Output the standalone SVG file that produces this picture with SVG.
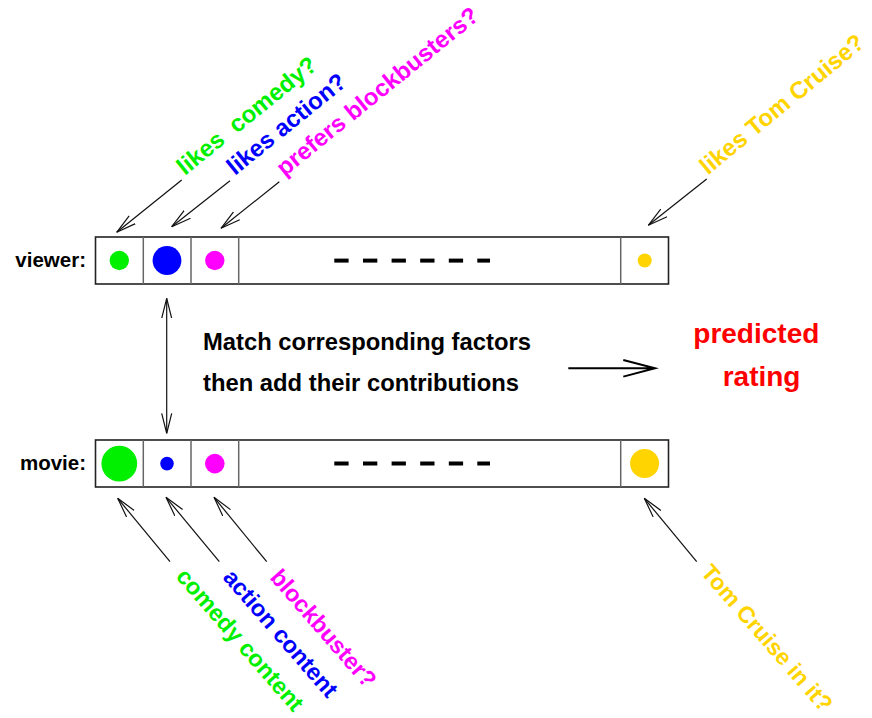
<svg xmlns="http://www.w3.org/2000/svg" width="872" height="718" viewBox="0 0 872 718">
  <defs>
    <style>
      text { font-family: "Liberation Sans", Arial, Helvetica, sans-serif; font-weight: bold; }
      .lbl { font-size: 24px; white-space: pre; }
      .lbl2 { font-size: 23.5px; white-space: pre; }
      .lbl3 { font-size: 23px; white-space: pre; }
      .row { font-size: 20.5px; fill: #000; }
      .mid { font-size: 23.8px; fill: #000; }
      .res { font-size: 28px; fill: #ff0000; }
      .box { fill: #fff; stroke: #222; stroke-width: 1.6; }
      .div { stroke: #666; stroke-width: 1.5; }
      .dash { fill: #000; }
      .conn { stroke: #111; stroke-width: 1.2; fill: none; }
      .g { fill: #00f000; } .b { fill: #0000ff; } .m { fill: #ff00ff; } .y { fill: #ffd400; }
    </style>
    <marker id="ah" markerUnits="userSpaceOnUse" markerWidth="24" markerHeight="12" refX="20" refY="6" orient="auto-start-reverse" viewBox="0 0 24 12">
      <path d="M0,1 L20,6 L0,11" fill="none" stroke="#111" stroke-width="1.2"/>
    </marker>
  </defs>
  <rect width="872" height="718" fill="#fff"/>

  <g id="viewer">
    <text class="row" x="86" y="267" text-anchor="end">viewer:</text>
    <rect class="box" x="95.5" y="237" width="573" height="47"/>
    <line class="div" x1="143.3" y1="237" x2="143.3" y2="284"/>
    <line class="div" x1="191" y1="237" x2="191" y2="284"/>
    <line class="div" x1="238.7" y1="237" x2="238.7" y2="284"/>
    <line class="div" x1="620.7" y1="237" x2="620.7" y2="284"/>
    <circle class="g" cx="119.3" cy="260.5" r="9.7"/>
    <circle class="b" cx="167" cy="260.5" r="14.4"/>
    <circle class="m" cx="214.8" cy="260.5" r="9.7"/>
    <circle class="y" cx="644.7" cy="260.5" r="7"/>
    <g class="dash">
      <rect x="334.3" y="258.6" width="14.3" height="4"/>
      <rect x="363" y="258.6" width="14.3" height="4"/>
      <rect x="391.6" y="258.6" width="14.3" height="4"/>
      <rect x="420.2" y="258.6" width="14.3" height="4"/>
      <rect x="448.8" y="258.6" width="14.3" height="4"/>
      <rect x="477.3" y="258.6" width="12.7" height="4"/>
    </g>
  </g>

  <g id="movie">
    <text class="row" x="86" y="470" text-anchor="end">movie:</text>
    <rect class="box" x="95.5" y="440" width="573" height="47"/>
    <line class="div" x1="143.3" y1="440" x2="143.3" y2="487"/>
    <line class="div" x1="191" y1="440" x2="191" y2="487"/>
    <line class="div" x1="238.7" y1="440" x2="238.7" y2="487"/>
    <line class="div" x1="620.7" y1="440" x2="620.7" y2="487"/>
    <circle class="g" cx="119.3" cy="463.6" r="17.9"/>
    <circle class="b" cx="167" cy="463.6" r="6.8"/>
    <circle class="m" cx="214.8" cy="463.6" r="9.8"/>
    <circle class="y" cx="644.6" cy="463.6" r="14.5"/>
    <g class="dash">
      <rect x="334.3" y="461.5" width="14.3" height="4"/>
      <rect x="363" y="461.5" width="14.3" height="4"/>
      <rect x="391.6" y="461.5" width="14.3" height="4"/>
      <rect x="420.2" y="461.5" width="14.3" height="4"/>
      <rect x="448.8" y="461.5" width="14.3" height="4"/>
      <rect x="477.3" y="461.5" width="12.7" height="4"/>
    </g>
  </g>

  <g id="label-likes-comedy"><text class="lbl g" transform="translate(185,176) rotate(-39)">likes  comedy?</text></g>
  <g id="label-likes-action"><text class="lbl b" transform="translate(235,176) rotate(-39)">likes action?</text></g>
  <g id="label-prefers-blockbusters"><text class="lbl m" transform="translate(284.5,177) rotate(-39)">prefers blockbusters?</text></g>
  <g id="label-likes-tom"><text class="lbl y" transform="translate(708,175.5) rotate(-39.5)">likes Tom Cruise?</text></g>

  <g id="label-comedy-content"><text class="lbl2 g" transform="translate(175,577) rotate(49)">comedy content</text></g>
  <g id="label-action-content"><text class="lbl2 b" transform="translate(222,578) rotate(49)">action content</text></g>
  <g id="label-blockbuster"><text class="lbl2 m" transform="translate(269,578) rotate(49)">blockbuster?</text></g>
  <g id="label-tom-in-it"><text class="lbl3 y" transform="translate(700,573) rotate(49)">Tom Cruise in it?</text></g>

  <g id="match-text">
    <text class="mid" x="203" y="350">Match corresponding factors</text>
    <text class="mid" x="203" y="391">then add their contributions</text>
  </g>

  <g id="predicted-rating">
    <text class="res" x="693.3" y="343">predicted</text>
    <text class="res" x="722.7" y="386">rating</text>
  </g>

  <g id="connectors">
    <line class="conn" x1="181.7" y1="180" x2="116.7" y2="232.3" marker-end="url(#ah)"/>
    <line class="conn" x1="230" y1="180.7" x2="171.7" y2="226.7" marker-end="url(#ah)"/>
    <line class="conn" x1="279.3" y1="181.7" x2="221" y2="228.3" marker-end="url(#ah)"/>
    <line class="conn" x1="706.7" y1="179" x2="648.3" y2="225.3" marker-end="url(#ah)"/>
    <line class="conn" x1="170" y1="561.7" x2="117.7" y2="498.3" marker-end="url(#ah)"/>
    <line class="conn" x1="219.3" y1="561.7" x2="166" y2="497.3" marker-end="url(#ah)"/>
    <line class="conn" x1="266.7" y1="561.7" x2="214" y2="497.3" marker-end="url(#ah)"/>
    <line class="conn" x1="696.7" y1="561.7" x2="644.3" y2="498.3" marker-end="url(#ah)"/>
    <line class="conn" x1="166.7" y1="298.3" x2="166.7" y2="433.3" marker-start="url(#ah)" marker-end="url(#ah)"/>
    <path d="M568.3,368.3 L655,368.3 M623.3,360 L655,368.3 L623.3,376.6" fill="none" stroke="#000" stroke-width="2"/>
  </g>
</svg>
